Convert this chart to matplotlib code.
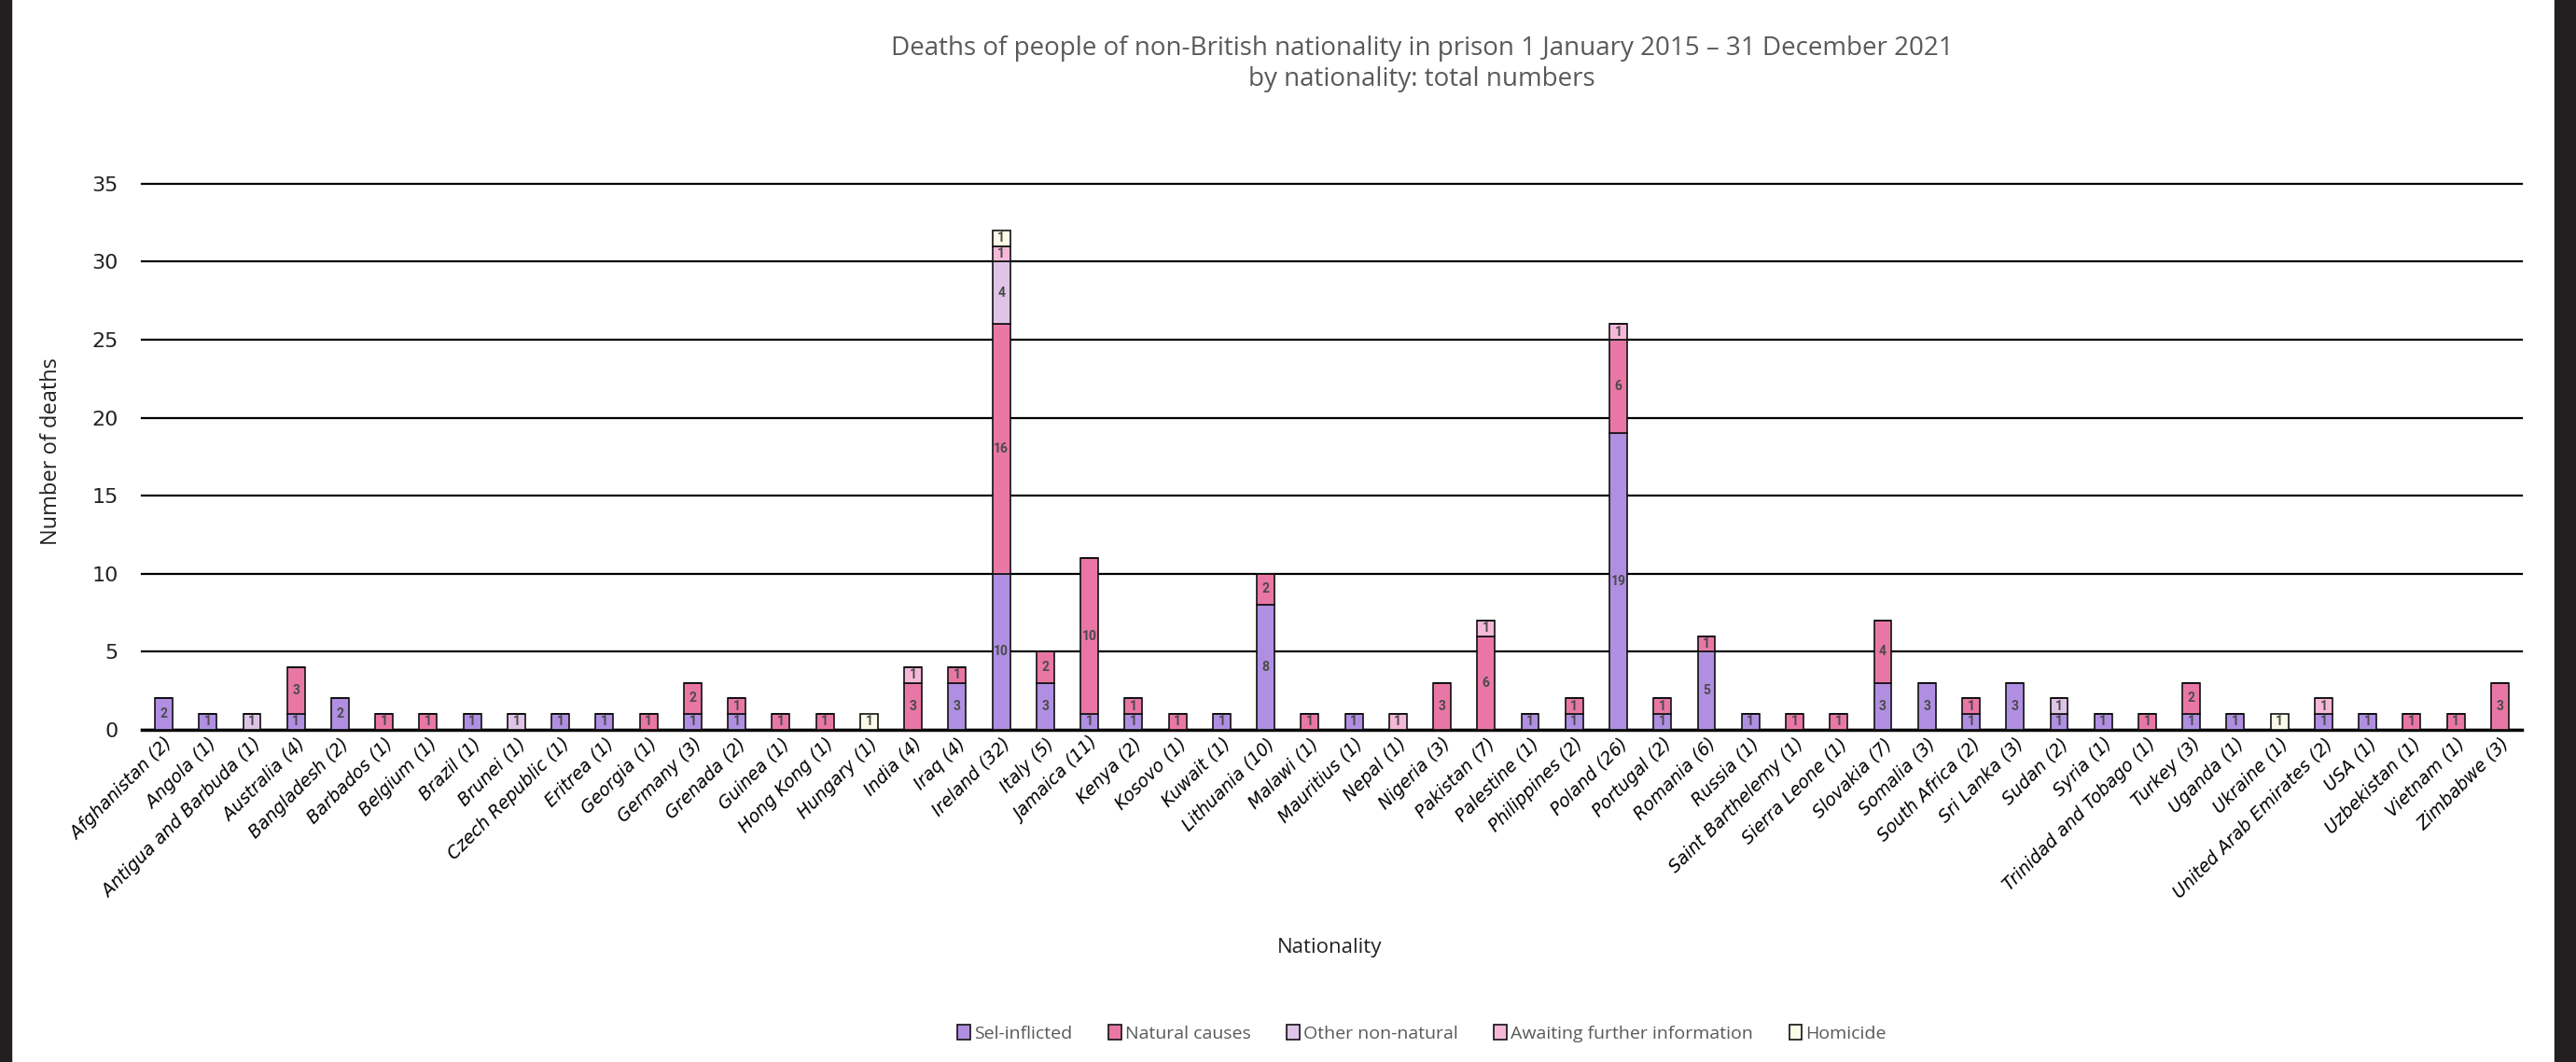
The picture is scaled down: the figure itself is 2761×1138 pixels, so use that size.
import matplotlib.pyplot as plt
import numpy as np
from matplotlib.patches import Rectangle

# nationalities and deaths by cause
countries = ['Afghanistan (2)', 'Angola (1)', 'Antigua and Barbuda (1)', 'Australia (4)',
             'Bangladesh (2)', 'Barbados (1)', 'Belgium (1)', 'Brazil (1)', 'Brunei (1)',
             'Czech Republic (1)', 'Eritrea (1)', 'Georgia (1)', 'Germany (3)', 'Grenada (2)',
             'Guinea (1)', 'Hong Kong (1)', 'Hungary (1)', 'India (4)', 'Iraq (4)',
             'Ireland (32)', 'Italy (5)', 'Jamaica (11)', 'Kenya (2)', 'Kosovo (1)',
             'Kuwait (1)', 'Lithuania (10)', 'Malawi (1)', 'Mauritius (1)', 'Nepal (1)',
             'Nigeria (3)', 'Pakistan (7)', 'Palestine (1)', 'Philippines (2)', 'Poland (26)',
             'Portugal (2)', 'Romania (6)', 'Russia (1)', 'Saint Barthelemy (1)',
             'Sierra Leone (1)', 'Slovakia (7)', 'Somalia (3)', 'South Africa (2)',
             'Sri Lanka (3)', 'Sudan (2)', 'Syria (1)', 'Trinidad and Tobago (1)', 'Turkey (3)',
             'Uganda (1)', 'Ukraine (1)', 'United Arab Emirates (2)', 'USA (1)',
             'Uzbekistan (1)', 'Vietnam (1)', 'Zimbabwe (3)']

self_inflicted = [2, 1, 0, 1, 2, 0, 0, 1, 0, 1, 1, 0, 1, 1, 0, 0, 0, 0, 3, 10, 3, 1, 1, 0,
                  1, 8, 0, 1, 0, 0, 0, 1, 1, 19, 1, 5, 1, 0, 0, 3, 3, 1, 3, 1, 1, 0, 1,
                  1, 0, 1, 1, 0, 0, 0]
natural = [0, 0, 0, 3, 0, 1, 1, 0, 0, 0, 0, 1, 2, 1, 1, 1, 0, 3, 1, 16, 2, 10, 1, 1,
           0, 2, 1, 0, 0, 3, 6, 0, 1, 6, 1, 1, 0, 1, 1, 4, 0, 1, 0, 0, 0, 1, 2,
           0, 0, 0, 0, 1, 1, 3]
other_non_natural = [0, 0, 1, 0, 0, 0, 0, 0, 1, 0, 0, 0, 0, 0, 0, 0, 0, 0, 0, 4, 0, 0, 0, 0,
                     0, 0, 0, 0, 0, 0, 0, 0, 0, 0, 0, 0, 0, 0, 0, 0, 0, 0, 0, 1, 0, 0, 0,
                     0, 0, 0, 0, 0, 0, 0]
awaiting = [0, 0, 0, 0, 0, 0, 0, 0, 0, 0, 0, 0, 0, 0, 0, 0, 0, 1, 0, 1, 0, 0, 0, 0,
            0, 0, 0, 0, 1, 0, 1, 0, 0, 1, 0, 0, 0, 0, 0, 0, 0, 0, 0, 0, 0, 0, 0,
            0, 0, 1, 0, 0, 0, 0]
homicide = [0, 0, 0, 0, 0, 0, 0, 0, 0, 0, 0, 0, 0, 0, 0, 0, 1, 0, 0, 1, 0, 0, 0, 0,
            0, 0, 0, 0, 0, 0, 0, 0, 0, 0, 0, 0, 0, 0, 0, 0, 0, 0, 0, 0, 0, 0, 0,
            0, 1, 0, 0, 0, 0, 0]

series = [('Sel-inflicted', self_inflicted, '#b08fe2'),
          ('Natural causes', natural, '#e977a6'),
          ('Other non-natural', other_non_natural, '#dfc4e8'),
          ('Awaiting further information', awaiting, '#f6b8d8'),
          ('Homicide', homicide, '#fbfbe9')]

fig = plt.figure(figsize=(27.61, 11.38), dpi=100)
ax = fig.add_axes([0.055, 0.313, 0.924, 0.514])

x = np.arange(len(countries))
bottom = np.zeros(len(countries))
for name, vals, col in series:
    vals = np.array(vals)
    ax.bar(x, vals, 0.4, bottom=bottom, color=col, edgecolor='#111111',
           linewidth=1.2, label=name, zorder=3)
    for i, v in enumerate(vals):
        if v > 0:
            ax.text(x[i], bottom[i] + v / 2, str(v), ha='center', va='center',
                    fontsize=10, fontweight='bold', color='#4a4a4a', zorder=4,
                    family='Roboto', fontstretch='condensed')
    bottom += vals

ax.set_ylim(0, 35)
ax.set_xlim(-0.5, len(countries) - 0.5)
ax.set_yticks(range(0, 36, 5))
ax.yaxis.grid(True, color='black', linewidth=1.6, zorder=0)
for gl in ax.get_ygridlines():
    gl.set_clip_on(False)
ax.set_axisbelow(True)
for s in ['top', 'right', 'left']:
    ax.spines[s].set_visible(False)
ax.spines['bottom'].set_linewidth(2.5)
ax.tick_params(axis='y', length=0, pad=18, labelsize=16, labelcolor='#222222')
ax.tick_params(axis='x', length=0, pad=4)
ax.set_xticks(x)
ax.set_xticklabels(countries, rotation=45, ha='right', rotation_mode='anchor',
                   fontsize=13.5, style='italic')

fig.text(0.020, 0.575, 'Number of deaths', rotation=90, ha='center', va='center',
         fontsize=17, family='Open Sans', color='#222222')
fig.text(0.516, 0.108, 'Nationality', ha='center', va='center', fontsize=16,
         family='Open Sans', color='#222222')
fig.text(0.552, 0.940, 'Deaths of people of non-British nationality in prison 1 January 2015 \u2013 31 December 2021\nby nationality: total numbers',
         ha='center', va='center', fontsize=20, family='Open Sans', color='#595959',
         linespacing=1.25)

fig.legend(loc='center', bbox_to_anchor=(0.552, 0.027), ncol=5, frameon=False,
           prop={'family': 'Open Sans', 'size': 14},
           handlelength=0.7, handleheight=0.9, handletextpad=0.2, columnspacing=2.0,
           labelcolor='#595959')

# dark frame strips on the sides
fig.patches.append(Rectangle((0, 0), 0.0045, 1, transform=fig.transFigure,
                             color='#231f20', zorder=10))
fig.patches.append(Rectangle((0.9915, 0), 0.0085, 1, transform=fig.transFigure,
                             color='#231f20', zorder=10))

fig.savefig('out.png', dpi=100)
